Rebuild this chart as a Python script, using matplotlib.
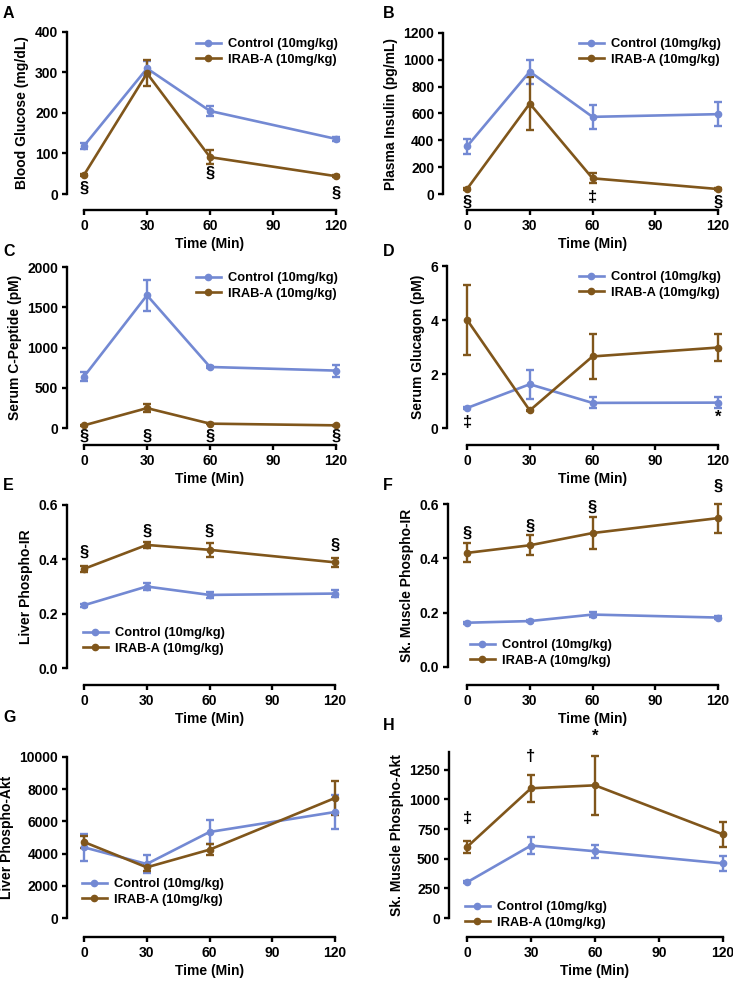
import matplotlib
matplotlib.use("Agg")
import matplotlib.pyplot as plt
from matplotlib.lines import Line2D

plt.rcParams['font.family'] = ['Liberation Sans', 'DejaVu Sans']
plt.rcParams['font.weight'] = 'bold'

W, H = 733, 981
BLUE = '#7389d3'
BROWN = '#80561b'

time_min = [0, 30, 60, 120]
legend_labels = ['Control (10mg/kg)', 'IRAB-A (10mg/kg)']

glucose_ctrl = [119, 310, 205, 136]
glucose_ctrl_err = [8, 18, 12, 4]
glucose_irab = [47, 298, 91, 44]
glucose_irab_err = [3, 32, 17, 3]

insulin_ctrl = [355, 912, 575, 595]
insulin_ctrl_err = [55, 90, 88, 88]
insulin_irab = [37, 674, 117, 37]
insulin_irab_err = [8, 200, 38, 6]

cpep_ctrl = [639, 1649, 758, 713]
cpep_ctrl_err = [54, 190, 15, 75]
cpep_irab = [33, 247, 54, 33]
cpep_irab_err = [8, 45, 10, 8]

glucagon_ctrl = [0.74, 1.62, 0.93, 0.94]
glucagon_ctrl_err = [0.04, 0.54, 0.2, 0.2]
glucagon_irab = [4.01, 0.65, 2.65, 2.98]
glucagon_irab_err = [1.3, 0.03, 0.83, 0.51]

liver_ir_ctrl = [0.231, 0.300, 0.269, 0.274]
liver_ir_ctrl_err = [0.005, 0.013, 0.012, 0.013]
liver_ir_irab = [0.365, 0.453, 0.435, 0.389]
liver_ir_irab_err = [0.012, 0.010, 0.025, 0.017]

muscle_ir_ctrl = [0.163, 0.169, 0.193, 0.182]
muscle_ir_ctrl_err = [0.004, 0.004, 0.010, 0.004]
muscle_ir_irab = [0.420, 0.448, 0.493, 0.548]
muscle_ir_irab_err = [0.035, 0.037, 0.060, 0.053]

liver_akt_ctrl = [4389, 3354, 5342, 6584]
liver_akt_ctrl_err = [830, 590, 725, 1035]
liver_akt_irab = [4720, 3147, 4244, 7453]
liver_akt_irab_err = [400, 200, 330, 1035]

muscle_akt_ctrl = [301, 611, 563, 460]
muscle_akt_ctrl_err = [8, 71, 53, 61]
muscle_akt_irab = [599, 1094, 1119, 705]
muscle_akt_irab_err = [54, 115, 247, 102]

# pixel box per panel: (x at t=0, x at t=120, y at 0, y at top, y-spine x, x-axis y)
panels = [
    dict(letter='A', ylabel='Blood Glucose (mg/dL)',
         ctrl=(glucose_ctrl, glucose_ctrl_err), irab=(glucose_irab, glucose_irab_err),
         yticks=[0, 100, 200, 300, 400], ytop=400, box=(84, 336, 194, 32, 67, 210),
         leg=(196, 52), letter_xy=(3, 13),
         marks=[(0, 14, '§'), (60, 51, '§'), (120, 3, '§')]),
    dict(letter='B', ylabel='Plasma Insulin (pg/mL)',
         ctrl=(insulin_ctrl, insulin_ctrl_err), irab=(insulin_irab, insulin_irab_err),
         yticks=[0, 200, 400, 600, 800, 1000, 1200], ytop=1200, box=(467, 718, 194, 33, 443, 210),
         leg=(579, 52), letter_xy=(383, 13),
         marks=[(0, -62, '§'), (60, -25, '‡'), (120, -62, '§')]),
    dict(letter='C', ylabel='Serum C-Peptide (pM)',
         ctrl=(cpep_ctrl, cpep_ctrl_err), irab=(cpep_irab, cpep_irab_err),
         yticks=[0, 500, 1000, 1500, 2000], ytop=2000, box=(84, 336, 428, 267, 67, 445),
         leg=(196, 286), letter_xy=(3, 251),
         marks=[(0, -103, '§'), (30, -103, '§'), (60, -103, '§'), (120, -103, '§')]),
    dict(letter='D', ylabel='Serum Glucagon (pM)',
         ctrl=(glucagon_ctrl, glucagon_ctrl_err), irab=(glucagon_irab, glucagon_irab_err),
         yticks=[0, 2, 4, 6], ytop=6, box=(467, 718, 428, 266, 447, 445),
         leg=(579, 285), letter_xy=(383, 251),
         marks=[(0, 0.22, '‡'), (120, 0.40, '*')]),
    dict(letter='E', ylabel='Liver Phospho-IR',
         ctrl=(liver_ir_ctrl, liver_ir_ctrl_err), irab=(liver_ir_irab, liver_ir_irab_err),
         yticks=[0.0, 0.2, 0.4, 0.6], ytop=0.6, box=(84, 335, 668, 505, 67, 685),
         leg=(83, 641), letter_xy=(3, 485), fmt='{:.1f}',
         marks=[(0, 0.426, '§'), (30, 0.502, '§'), (60, 0.502, '§'), (120, 0.453, '§')]),
    dict(letter='F', ylabel='Sk. Muscle Phospho-IR',
         ctrl=(muscle_ir_ctrl, muscle_ir_ctrl_err), irab=(muscle_ir_irab, muscle_ir_irab_err),
         yticks=[0.0, 0.2, 0.4, 0.6], ytop=0.6, box=(467, 718, 667, 504, 448, 685),
         leg=(470, 653), letter_xy=(383, 485), fmt='{:.1f}',
         marks=[(0, 0.493, '§'), (30, 0.518, '§'), (60, 0.589, '§'), (120, 0.665, '§')]),
    dict(letter='G', ylabel='Liver Phospho-Akt',
         ctrl=(liver_akt_ctrl, liver_akt_ctrl_err), irab=(liver_akt_irab, liver_akt_irab_err),
         yticks=[0, 2000, 4000, 6000, 8000, 10000], ytop=10000, box=(84, 335, 918, 757, 67, 937),
         leg=(82, 892), letter_xy=(3, 717), marks=[]),
    dict(letter='H', ylabel='Sk. Muscle Phospho-Akt',
         ctrl=(muscle_akt_ctrl, muscle_akt_ctrl_err), irab=(muscle_akt_irab, muscle_akt_irab_err),
         yticks=[0, 250, 500, 750, 1000, 1250], ytop=1400, box=(467, 723, 918, 752, 449, 937),
         leg=(465, 915), letter_xy=(383, 725),
         marks=[(0, 838, '‡'), (30, 1364, '†'), (60, 1534, '*')]),
]

fig = plt.figure(figsize=(W / 100, H / 100), dpi=100)
px2pt = 72 / 100

for p in panels:
    x0, x1, y0, yt, sx, xa = p['box']
    ax = fig.add_axes([x0 / W, 1 - y0 / H, (x1 - x0) / W, (y0 - yt) / H])
    ax.set_xlim(0, 120)
    ax.set_ylim(0, p['ytop'])

    for (vals, errs), color in [(p['ctrl'], BLUE), (p['irab'], BROWN)]:
        ax.errorbar(time_min, vals, yerr=errs, fmt='none', ecolor=color,
                    elinewidth=1.7, capsize=3, capthick=1.7, clip_on=False, zorder=3)
        ax.plot(time_min, vals, color=color, lw=1.9, marker='o', ms=4.5,
                clip_on=False, zorder=4)

    for t, y, s in p['marks']:
        ax.text(t, y, s, ha='center', va='center', fontsize=12, fontweight='bold',
                clip_on=False)

    for side in ['top', 'right']:
        ax.spines[side].set_visible(False)
    ax.spines['left'].set_position(('outward', (x0 - sx) * px2pt))
    ax.spines['bottom'].set_position(('outward', (xa - y0) * px2pt))
    ax.spines['left'].set_bounds(0, p['ytop'])
    ax.spines['bottom'].set_bounds(0, 120)
    for side in ['left', 'bottom']:
        ax.spines[side].set_linewidth(1.7)

    ax.set_xticks([0, 30, 60, 90, 120])
    ax.set_yticks(p['yticks'])
    if 'fmt' in p:
        ax.set_yticklabels([p['fmt'].format(v) for v in p['yticks']])
    ax.tick_params(width=1.7, length=3.8, labelsize=10, pad=2.5)
    for lab in ax.get_xticklabels() + ax.get_yticklabels():
        lab.set_fontweight('bold')

    ax.set_xlabel('Time (Min)', fontsize=10, fontweight='bold', labelpad=3)
    ax.set_ylabel(p['ylabel'], fontsize=10, fontweight='bold', labelpad=4)

    handles = [Line2D([], [], color=BLUE, lw=1.9, marker='o', ms=4.5),
               Line2D([], [], color=BROWN, lw=1.9, marker='o', ms=4.5)]
    lx, ly = p['leg']
    ax.legend(handles, legend_labels, loc='center left',
              bbox_to_anchor=(lx / W, 1 - ly / H), bbox_transform=fig.transFigure,
              frameon=False, borderpad=0, borderaxespad=0, handlelength=1.9,
              handletextpad=0.6, labelspacing=0.3,
              prop={'size': 9.3, 'weight': 'bold'})

    fx, fy = p['letter_xy']
    fig.text(fx / W, 1 - fy / H, p['letter'], ha='left', va='center',
             fontsize=11.5, fontweight='bold')

fig.savefig('out.png', dpi=100)
